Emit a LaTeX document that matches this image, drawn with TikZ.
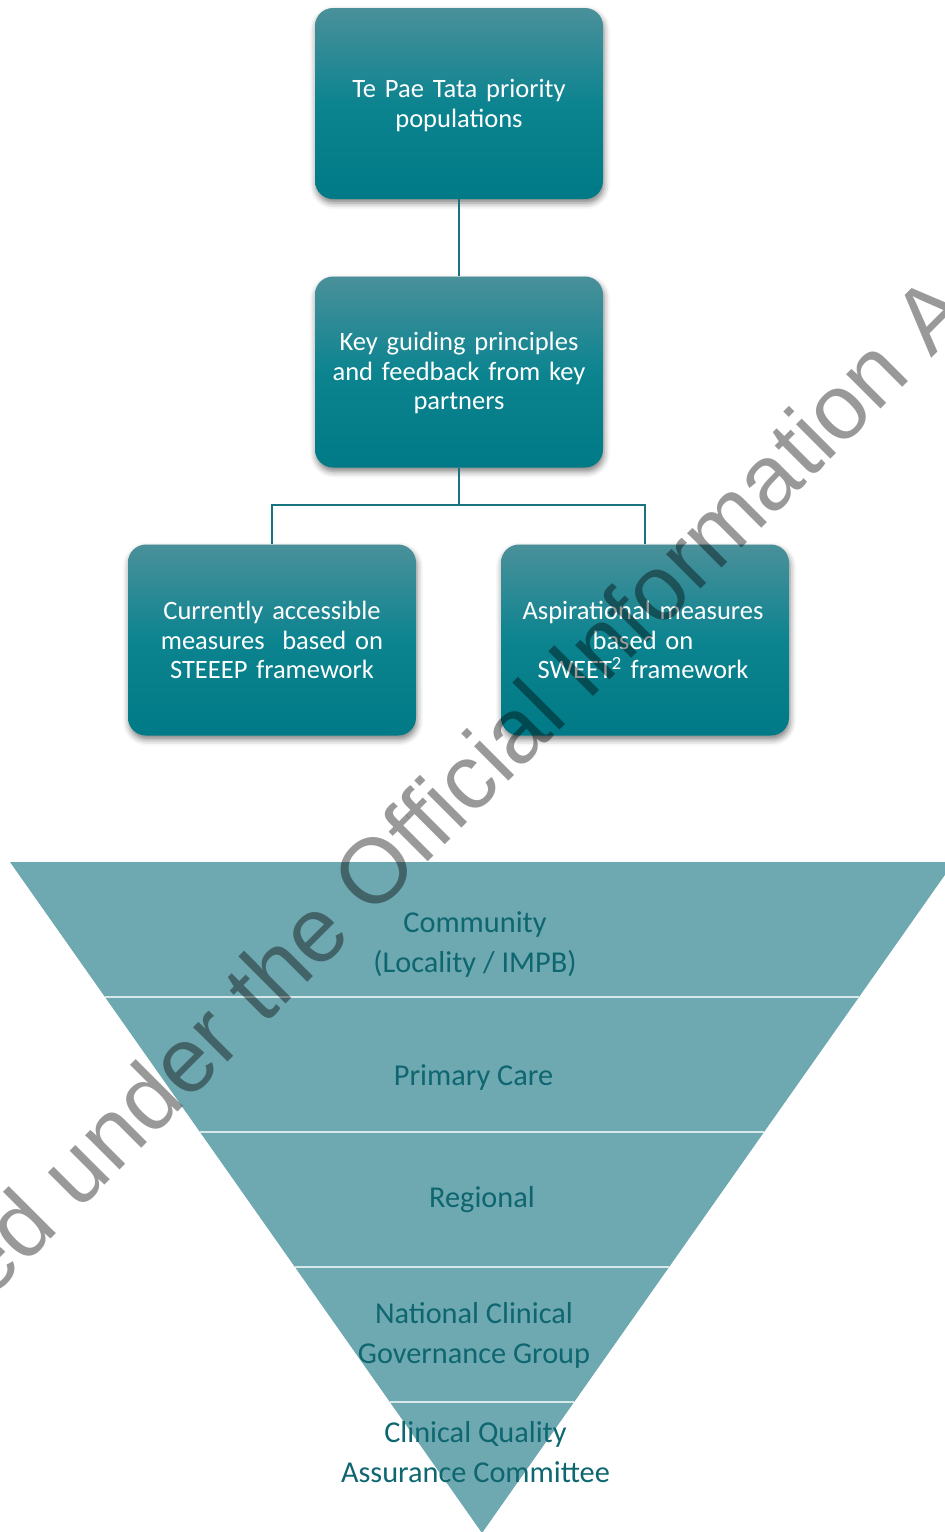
\documentclass[tikz,border=0pt]{standalone}
\usepackage{fontspec}
\setmainfont{Carlito}
\newfontfamily\wmfont{Liberation Sans}
\usetikzlibrary{calc,shadows.blur}

\definecolor{boxtop}{HTML}{4A909A}
\definecolor{boxmid}{HTML}{0C8490}
\definecolor{boxbot}{HTML}{007A86}
\definecolor{linkcol}{HTML}{17737E}
\definecolor{funnelfill}{HTML}{6EA8B0}
\definecolor{funneltext}{HTML}{0E6670}
\definecolor{sepline}{HTML}{D6E8EA}

\tikzset{
  tealbox/.style={rectangle, rounded corners=18pt, minimum width=288pt,
    minimum height=191pt, text width=270pt, align=center, text=white,
    font=\fontsize{26.5}{29.5}\selectfont,
    top color=boxtop, bottom color=boxbot, middle color=boxmid,
    blur shadow={shadow xshift=1pt, shadow yshift=-4pt,
      shadow blur radius=6pt, shadow opacity=50}},
  boxtext/.style={anchor=center, inner sep=0pt, text width=270pt,
    align=center, text=white, font=\fontsize{26.5}{29.5}\selectfont},
  link/.style={draw=linkcol, line width=2.5pt},
  levellabel/.style={text=funneltext, align=center, inner sep=0pt,
    font=\fontsize{30.3}{40}\selectfont},
  seprule/.style={draw=sepline, line width=2pt},
}

\begin{document}
\begin{tikzpicture}[x=1pt,y=-1pt]
\useasboundingbox (0,0) rectangle (945,1532);

% governance funnel
\begin{scope}
  \clip (0,0) rectangle (945,1532);
  \coordinate (apex) at (482,1533);
  \coordinate (tl) at (10,862);
  \coordinate (tr) at (954,862);
  \fill[funnelfill] (tl) -- (tr) -- (apex) -- cycle;
  \foreach \t in {0.7988,0.5976,0.3964,0.1952}
    \draw[seprule] ($(apex)!\t!(tl)$) -- ($(apex)!\t!(tr)$);
\end{scope}

\node[levellabel] (community) at (475,945) {Community\\(Locality / IMPB)};
\node[levellabel] (primary) at (473.5,1078) {Primary Care};
\node[levellabel] (regional) at (482,1200) {Regional};
\node[levellabel] (national) at (474,1335) {National Clinical\\Governance Group};
\node[levellabel] (cqac) at (475.5,1452) {Clinical Quality\\Assurance Committee};

% hierarchy boxes
\node[tealbox] (pop) at (459,103.5) {};
\node[tealbox] (kgp) at (459,372) {};
\node[tealbox] (cur) at (272,640) {};
\node[tealbox] (asp) at (645,640) {};

\node[boxtext] (poptext) at (459,105.5) {Te Pae Tata priority\\populations};
\node[boxtext] (kgptext) at (459,373) {Key guiding principles\\and feedback from key\\partners};
\node[boxtext] (curtext) at (272,640) {Currently accessible\\measures~ based on\\STEEEP framework};
\node[boxtext] (asptext) at (643,640) {Aspirational measures\\based on\\SWEET\textsuperscript{2} framework};

% connectors
\coordinate (split) at (459,505);
\draw[link] (pop.south) -- (kgp.north);
\draw[link] (kgp.south) -- (split);
\draw[link] (split) -| (cur.north);
\draw[link] (split) -| (asp.north);

% release stamp across the page
\begin{scope}
  \clip (0,0) rectangle (945,1532);
  \node[rotate=45, anchor=base west, inner sep=0pt, text=black,
    text opacity=0.4, font=\wmfont\fontsize{92}{92}\selectfont]
    (stamp) at (-214,1504) {Released under the Official Information Act};
\end{scope}
\end{tikzpicture}
\end{document}
